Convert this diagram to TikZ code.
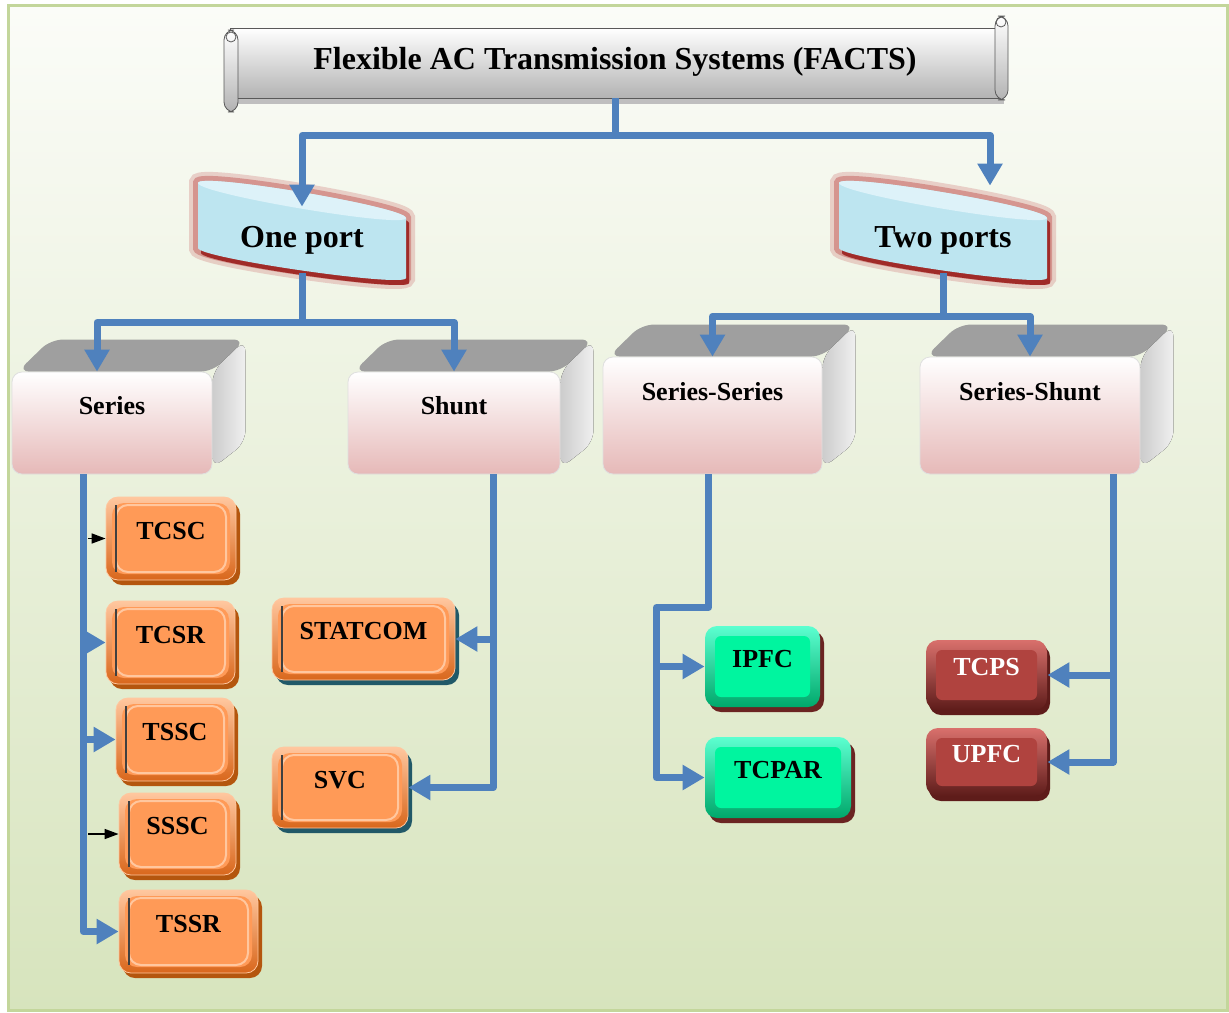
\documentclass[tikz,border=0pt]{standalone}
\usepackage{fontspec}
\setmainfont{Liberation Serif}
\usetikzlibrary{arrows.meta,calc,shadows,backgrounds}
\definecolor{busblue}{HTML}{4F81BD}
\definecolor{bgtop}{HTML}{FBFCF8}
\definecolor{bgbot}{HTML}{D7E4BD}
\definecolor{bordergreen}{HTML}{C3D69B}
\definecolor{facepink}{HTML}{E6B9B8}
\definecolor{portblue}{HTML}{BDE5F0}
\definecolor{porttop}{HTML}{DDF2F9}
\definecolor{portred}{HTML}{C0504D}
\definecolor{portdark}{HTML}{A02B28}
\definecolor{orangemain}{HTML}{FF9A57}
\definecolor{orangelight}{HTML}{FFC79F}
\definecolor{orangedark}{HTML}{D9671C}
\definecolor{brownsh}{HTML}{B4560E}
\definecolor{tealsh}{HTML}{215968}
\definecolor{greenmain}{HTML}{00F59F}
\definecolor{greenlight}{HTML}{5CFFD0}
\definecolor{greendark}{HTML}{00A86B}
\definecolor{redmain}{HTML}{B0433F}
\definecolor{redlight}{HTML}{D9706C}
\definecolor{reddark}{HTML}{5E1C1A}
\definecolor{wine}{HTML}{6B2422}

\begin{document}
\begin{tikzpicture}[x=0.5pt,y=-0.5pt,
  bus/.style={draw=busblue,line width=3.5pt,line join=round,-{Triangle[width=12pt,length=11pt]}},
  tip/.style={-{Triangle[width=5pt,length=7pt]},line width=0.8pt},
  scroll/.style={draw=black!65,top color=white,bottom color=gray!60,minimum width=385pt,minimum height=35pt,
    inner sep=0pt,text height=11pt,text depth=5pt,font=\fontsize{16}{19}\selectfont\bfseries,
    drop shadow={shadow xshift=2pt,shadow yshift=-3pt,fill=gray!50,opacity=1}},
  port/.style={minimum width=105pt,minimum height=33pt,font=\fontsize{16}{19}\selectfont\bfseries},
  cube/.style={rounded corners=5pt,draw=gray!25,top color=white,bottom color=facepink,inner sep=0pt,
    text height=9pt,font=\fontsize{13}{15}\selectfont\bfseries},
  device/.style={rounded corners=6pt,inner sep=0pt,text depth=8pt,font=\fontsize{13}{15}\selectfont\bfseries},
  orangebox/.style={device,draw=orangelight,top color=orangelight,bottom color=orangedark,
    drop shadow={shadow xshift=2pt,shadow yshift=-2.5pt,fill=#1,opacity=1},
    path picture={
      \fill[orangemain] ([shift={(3pt,-3pt)}]path picture bounding box.north west) rectangle ([shift={(-3pt,3pt)}]path picture bounding box.south east);
      \draw[orangelight,line width=1pt] ([shift={(5pt,-4pt)}]path picture bounding box.north west) rectangle ([shift={(-5pt,4pt)}]path picture bounding box.south east);
      \draw[black!75,line width=1.2pt] ([shift={(5pt,-4pt)}]path picture bounding box.north west) -- ([shift={(5pt,4pt)}]path picture bounding box.south west);}},
  greenbox/.style={device,top color=greenlight,bottom color=greendark,
    drop shadow={shadow xshift=2pt,shadow yshift=-2.5pt,fill=wine,opacity=1},
    path picture={\fill[greenmain,rounded corners=3pt] ([shift={(5pt,-5pt)}]path picture bounding box.north west) rectangle ([shift={(-5pt,5pt)}]path picture bounding box.south east);}},
  redbox/.style={device,text=white,top color=redlight,bottom color=reddark,
    drop shadow={shadow xshift=1.5pt,shadow yshift=-2.5pt,fill=reddark,opacity=1},
    path picture={\fill[redmain,rounded corners=3pt] ([shift={(5pt,-5pt)}]path picture bounding box.north west) rectangle ([shift={(-5pt,5pt)}]path picture bounding box.south east);}}
]
\useasboundingbox (0,0) rectangle (1229,1012);

% title and the two port groups
\node[scroll] (facts) at (615,63) {Flexible AC Transmission Systems (FACTS)};
\draw[black!65,top color=white,bottom color=gray!60,rounded corners=5pt] (224,30) rectangle (238,112);
\draw[black!65,top color=white,bottom color=gray!60,rounded corners=5pt] (995,16) rectangle (1008,100);
\draw[black!65] (231,37) circle (5) (1001,22) circle (5);

\node[port] (oneport) at (302,240) {One port};
\node[port] (twoports) at (943,240) {Two ports};

\node[cube,minimum width=100pt,minimum height=51pt,text depth=18pt] (series) at (112,423) {Series};
\node[cube,minimum width=106pt,minimum height=51pt,text depth=18pt] (shunt) at (454,423) {Shunt};
\node[cube,minimum width=109.5pt,minimum height=58.5pt,text depth=24.5pt] (serser) at (712.5,415.5) {Series-Series};
\node[cube,minimum width=110pt,minimum height=58.5pt,text depth=24.5pt] (sershunt) at (1030,415.5) {Series-Shunt};

% controllers
\node[orangebox=brownsh,minimum width=65pt,minimum height=41.5pt] (tcsc) at (171,538.5) {TCSC};
\node[orangebox=brownsh,minimum width=64.5pt,minimum height=41.5pt] (tcsr) at (170.5,642.5) {TCSR};
\node[orangebox=brownsh,minimum width=59pt,minimum height=41.5pt] (tssc) at (175,739.5) {TSSC};
\node[orangebox=brownsh,minimum width=58.5pt,minimum height=41pt] (sssc) at (177.5,834) {SSSC};
\node[orangebox=brownsh,minimum width=69.5pt,minimum height=41.5pt] (tssr) at (188.5,931.5) {TSSR};
\node[orangebox=tealsh,minimum width=91.5pt,minimum height=41pt] (statcom) at (363.5,639) {STATCOM};
\node[orangebox=tealsh,minimum width=68pt,minimum height=40.5pt] (svc) at (340,787.5) {SVC};
\node[greenbox,minimum width=57.5pt,minimum height=40.5pt] (ipfc) at (762.5,666.5) {IPFC};
\node[greenbox,minimum width=73pt,minimum height=40.5pt] (tcpar) at (778,777.5) {TCPAR};
\node[redbox,minimum width=60.5pt,minimum height=35pt] (tcps) at (986.5,675) {TCPS};
\node[redbox,minimum width=60.5pt,minimum height=34pt] (upfc) at (986.5,762) {UPFC};

\begin{scope}[on background layer]
  \fill[white] (0,0) rectangle (1229,1012);
  \draw[bordergreen,line width=1.5pt,top color=bgtop,bottom color=bgbot] (8,5) rectangle (1227,1010);
  \foreach \c in {series,shunt,serser,sershunt}{
    \fill[gray!75,rounded corners=6pt] ([xshift=3pt]\c.north west) -- ++(33,-32) -- ($(\c.north east)+(33,-32)$) -- (\c.north east) -- cycle;
    \fill[left color=gray!40,right color=gray!12,rounded corners=6pt] (\c.north east) -- ++(33,-32) -- ($(\c.south east)+(33,-32)$) -- ([yshift=3pt]\c.south east) -- cycle;
  }
  \foreach \p in {oneport,twoports}{
    \begin{scope}[shift={(\p.center)}]
      \path[fill=portblue,preaction={draw=portred!80,line width=9pt,opacity=.3},
            preaction={draw=portred,line width=5pt,opacity=.45},
            preaction={fill=portdark,transform canvas={shift={(1.5pt,-2.5pt)}}}]
        (-104,-57) .. controls (-104,-68) and (104,-33) .. (104,-22) -- (104,38)
        .. controls (104,48) and (-104,18) .. (-104,8) -- cycle;
      \fill[porttop] (-104,-57) .. controls (-104,-68) and (104,-33) .. (104,-22)
        .. controls (104,-11) and (-104,-46) .. (-104,-57) -- cycle;
    \end{scope}
  }
\end{scope}

% connectors
\draw[bus] (facts.south) -- ++(0,37) -| (oneport.north);
\draw[bus] (facts.south) -- ++(0,37) -| ([xshift=23.5pt,yshift=10.5pt]twoports.north);
\draw[bus] (oneport.south) -- ++(0,49) -| ([xshift=-7.5pt]series.north);
\draw[bus] (oneport.south) -- ++(0,49) -| (shunt.north);
\draw[bus] (twoports.south) -- ++(0,43) -| (serser.north);
\draw[bus] (twoports.south) -- ++(0,43) -| (sershunt.north);

\coordinate (sbus) at ([xshift=-14.5pt]series.south);
\draw[bus] (sbus) |- (tssr.west);
\foreach \d in {tcsr,tssc} \draw[bus] (sbus |- \d.west) -- (\d.west);
\foreach \d in {tcsc,sssc} \draw[tip] ($(sbus |- \d.west)+(5,0)$) -- (\d.west);

\coordinate (hbus) at ([xshift=19.5pt]shunt.south);
\draw[bus] (hbus) |- (svc.east);
\draw[bus] (hbus |- statcom.east) -- (statcom.east);

\draw[bus] ([xshift=-2pt]serser.south) -- ++(0,133) -- ++(-52,0) coordinate (ssbus) |- (tcpar.west);
\draw[bus] (ssbus |- ipfc.west) -- (ipfc.west);

\coordinate (shbus) at ([xshift=41.5pt]sershunt.south);
\draw[bus] (shbus) |- (upfc.east);
\draw[bus] (shbus |- tcps.east) -- (tcps.east);
\end{tikzpicture}
\end{document}
